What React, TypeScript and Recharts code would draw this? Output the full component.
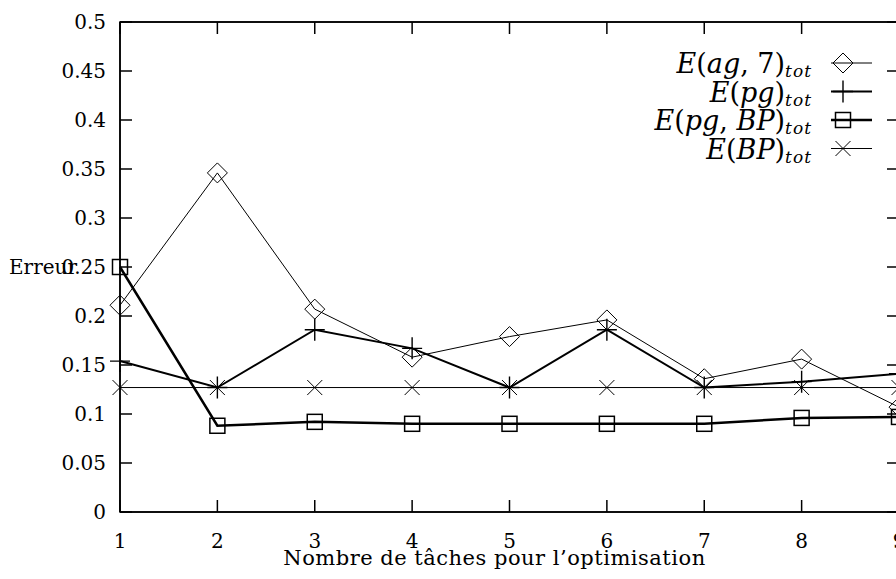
import { Line, LineChart, ReferenceArea, XAxis, YAxis } from "recharts";

// Erreur totale selon le nombre de tâches utilisées pour l'optimisation
const TASKS = [1, 2, 3, 4, 5, 6, 7, 8, 9];
const E_AG7 = [0.211, 0.346, 0.207, 0.158, 0.179, 0.196, 0.136, 0.156, 0.107];
const E_PG = [0.154, 0.127, 0.186, 0.167, 0.127, 0.186, 0.127, 0.133, 0.141];
const E_PG_BP = [0.25, 0.088, 0.092, 0.09, 0.09, 0.09, 0.09, 0.096, 0.097];
const E_BP = [0.127, 0.127, 0.127, 0.127, 0.127, 0.127, 0.127, 0.127, 0.127];

const Y_TICKS = [0, 0.05, 0.1, 0.15, 0.2, 0.25, 0.3, 0.35, 0.4, 0.45, 0.5];
const Y_TICK_LABELS = ["0", "0.05", "0.1", "0.15", "0.2", "0.25", "0.3", "0.35", "0.4", "0.45", "0.5"];
const LEGEND_LABELS = ["E(ag, 7)", "E(pg)", "E(pg, BP)", "E(BP)"];
const LEGEND_SUB = "tot";

const data = TASKS.map((n, i) => ({
  n,
  ag7: E_AG7[i],
  pg: E_PG[i],
  pgbp: E_PG_BP[i],
  bp: E_BP[i],
}));

const FONT = "'DejaVu Serif', serif";
const W = 920;
const H = 579;
const TICK = 12;

type Mark = (cx: number, cy: number, key?: string | number) => JSX.Element;

const diamond: Mark = (cx, cy, key) => (
  <path
    key={key}
    d={`M${cx - 10},${cy}L${cx},${cy - 10}L${cx + 10},${cy}L${cx},${cy + 10}Z`}
    fill="none"
    stroke="#000"
    strokeWidth={1}
  />
);

const plus: Mark = (cx, cy, key) => (
  <path
    key={key}
    d={`M${cx - 10},${cy}H${cx + 10}M${cx},${cy - 11}V${cy + 11}`}
    fill="none"
    stroke="#000"
    strokeWidth={1.4}
  />
);

const square: Mark = (cx, cy, key) => (
  <rect
    key={key}
    x={cx - 7.5}
    y={cy - 7.5}
    width={15}
    height={15}
    fill="none"
    stroke="#000"
    strokeWidth={1.5}
  />
);

const cross: Mark = (cx, cy, key) => (
  <path
    key={key}
    d={`M${cx - 7.5},${cy - 7.5}L${cx + 7.5},${cy + 7.5}M${cx - 7.5},${cy + 7.5}L${cx + 7.5},${cy - 7.5}`}
    fill="none"
    stroke="#000"
    strokeWidth={1}
  />
);

const SERIES = [
  { key: "ag7", mark: diamond, width: 1 },
  { key: "pg", mark: plus, width: 2 },
  { key: "pgbp", mark: square, width: 2.5 },
  { key: "bp", mark: cross, width: 1 },
];

function BottomTick({ x, y, payload }: any) {
  return (
    <g>
      <line x1={x} y1={y} x2={x} y2={y - TICK} stroke="#000" strokeWidth={1.5} />
      <text x={x} y={y + 36} textAnchor="middle" fontFamily={FONT} fontSize={20} fill="#000">
        {payload.value}
      </text>
    </g>
  );
}

function TopTick({ x, y }: any) {
  return <line x1={x} y1={y} x2={x} y2={y + TICK} stroke="#000" strokeWidth={1.5} />;
}

function LeftTick({ x, y, index }: any) {
  return (
    <g>
      <line x1={x} y1={y} x2={x + TICK} y2={y} stroke="#000" strokeWidth={1.5} />
      <text x={x - 14} y={y + 7} textAnchor="end" fontFamily={FONT} fontSize={20} fill="#000">
        {Y_TICK_LABELS[index]}
      </text>
    </g>
  );
}

function RightTick({ x, y }: any) {
  return <line x1={x} y1={y} x2={x - TICK} y2={y} stroke="#000" strokeWidth={1.5} />;
}

// Légende façon gnuplot, calée sur le coin haut droit du cadre :
// texte mathématique aligné à droite, puis échantillon de trait et symbole
function MathLegend({ viewBox }: any) {
  const right = viewBox.x + viewBox.width;
  const top = viewBox.y;
  return (
    <g>
      {LEGEND_LABELS.map((label, i) => {
        const cy = top + 41 + i * 28.5;
        const s = SERIES[i];
        return (
          <g key={label}>
            <text x={right - 87} y={cy + 10} textAnchor="end" fontFamily={FONT} fontSize={27} fill="#000">
              {label.split("").map((ch, j) => (
                <tspan key={j} fontStyle={/[A-Za-z]/.test(ch) ? "italic" : "normal"}>
                  {ch}
                </tspan>
              ))}
              <tspan fontStyle="italic" fontSize={17} dy={4} letterSpacing={1}>
                {LEGEND_SUB}
              </tspan>
            </text>
            <line x1={right - 68} y1={cy} x2={right - 27} y2={cy} stroke="#000" strokeWidth={s.width} />
            {s.mark(right - 56, cy)}
          </g>
        );
      })}
    </g>
  );
}

export default function App() {
  return (
    <div
      style={{
        position: "fixed",
        left: 0,
        top: 0,
        width: 896,
        height: 579,
        overflow: "hidden",
        background: "#fff",
      }}
    >
      <LineChart width={W} height={H} data={data} margin={{ top: 21, right: 20, bottom: 0, left: 0 }}>
        <XAxis
          xAxisId={0}
          dataKey="n"
          type="number"
          domain={[1, 9]}
          ticks={TASKS}
          height={67}
          tickSize={0}
          tickMargin={0}
          tickLine={false}
          axisLine={{ stroke: "#000", strokeWidth: 1.5 }}
          tick={<BottomTick />}
          label={{
            value: "Nombre de tâches pour l’optimisation",
            position: "insideBottom",
            offset: 14,
            dx: -15,
            fill: "#000",
            fontSize: 21,
            fontFamily: FONT,
            letterSpacing: 0.5,
          }}
        />
        <XAxis
          xAxisId={1}
          orientation="top"
          dataKey="n"
          type="number"
          domain={[1, 9]}
          ticks={TASKS}
          height={1}
          tickSize={0}
          tickMargin={0}
          tickLine={false}
          axisLine={{ stroke: "#000", strokeWidth: 1.5 }}
          tick={<TopTick />}
        />
        <YAxis
          yAxisId={0}
          type="number"
          domain={[0, 0.5]}
          ticks={Y_TICKS}
          width={120}
          tickSize={0}
          tickMargin={0}
          tickLine={false}
          axisLine={{ stroke: "#000", strokeWidth: 1.5 }}
          tick={<LeftTick />}
          label={{
            value: "Erreur",
            position: "insideLeft",
            offset: 9,
            fill: "#000",
            fontSize: 20,
            fontFamily: FONT,
          }}
        />
        <YAxis
          yAxisId={1}
          orientation="right"
          type="number"
          domain={[0, 0.5]}
          ticks={Y_TICKS}
          width={1}
          tickSize={0}
          tickMargin={0}
          tickLine={false}
          axisLine={{ stroke: "#000", strokeWidth: 1.5 }}
          tick={<RightTick />}
        />
        {/* cadre complet du graphe, qui porte aussi la légende */}
        <ReferenceArea
          xAxisId={0}
          yAxisId={0}
          x1={1}
          x2={9}
          y1={0}
          y2={0.5}
          fill="none"
          stroke="#000"
          strokeWidth={1.5}
          fillOpacity={0}
          strokeOpacity={1}
          ifOverflow="visible"
          label={<MathLegend />}
        />
        {/* trait invisible qui rattache les axes du cadre (haut, droite) aux données */}
        <Line
          xAxisId={1}
          yAxisId={1}
          dataKey="bp"
          stroke="none"
          dot={false}
          activeDot={false}
          legendType="none"
          isAnimationActive={false}
        />
        {SERIES.map((s) => (
          <Line
            key={s.key}
            xAxisId={0}
            yAxisId={0}
            type="linear"
            dataKey={s.key}
            stroke="#000"
            strokeWidth={s.width}
            dot={(p: any) => s.mark(p.cx, p.cy, `${s.key}-${p.index}`)}
            activeDot={false}
            isAnimationActive={false}
          />
        ))}
      </LineChart>
    </div>
  );
}
